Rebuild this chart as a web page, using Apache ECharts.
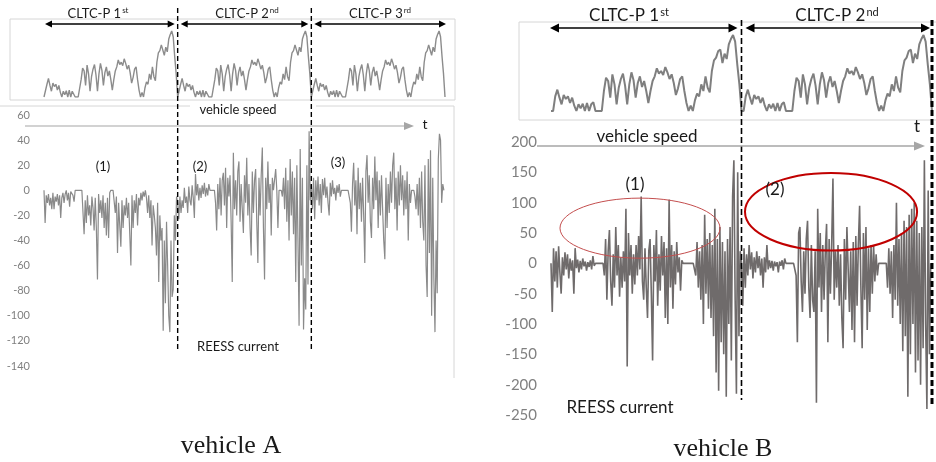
<!DOCTYPE html>
<html><head><meta charset="utf-8">
<script src="https://cdn.jsdelivr.net/npm/echarts@6/dist/echarts.min.js"></script>
<style>html,body{margin:0;padding:0;background:#fff}#c{width:936px;height:462px}</style>
</head><body><div id="c"></div>
<script>
// ---------- data ----------
const cycleNames = ['CLTC-P 1', 'CLTC-P 2', 'CLTC-P 3'];
const cycleSup = ['st', 'nd', 'rd'];
const cycleSeconds = 1800;

// one CLTC-P speed cycle, km/h, every 20 s
const speedCycle = [0,0,22,32,20,10,24,18,22,12,20,8,0,10,4,11,0,12,0,10,
  13,0,0,0,0,30,50,45,20,55,40,10,35,48,56,38,10,40,58,46,
  20,42,52,36,45,30,12,30,45,52,64,56,60,54,66,58,48,55,42,24,
  34,48,52,30,12,0,8,0,16,26,22,40,30,52,35,28,60,76,80,90,
  92,72,86,78,100,108,114,104,70,40];
const speedStep = 20;

// vehicle A REESS current (A), every 15 s, one array per cycle
const curA1 = [0,-26,-4,-10,-3,-12,-6,-15,-2,-15,-5,-9,-3,-12,-4,-22,-6,-2,-10,-3,
  0,-8,-2,-13,-1,0,-4,-9,0,0,0,0,0,0,0,0,-35,-8,-26,-4,
  -20,-12,-28,-5,-14,-32,-6,-30,-71,-3,-18,-8,-22,-4,-30,-10,-36,-6,-38,-2,
  0,0,0,0,-18,-5,-50,-10,-28,-45,-8,-30,-12,-20,-6,-22,-10,-35,-60,-4,
  -30,-8,-18,-3,-28,-6,-12,-2,-8,-1,-5,0,-6,-18,-4,-22,-8,-44,-12,-20,
  -30,-52,-10,-73,-20,-40,-30,-112,-40,-90,-25,-60,-100,-113,-40,-85,-79,-20,-40,-5];
const curA2 = [-10,-23,-5,-18,-8,-14,2,-10,-5,-18,3,-8,-12,4,-6,-22,13,-4,5,-8,
  2,-6,4,-3,6,-5,2,-4,5,0,0,0,0,0,-10,-32,5,-15,10,-20,
  8,14,-12,18,-30,10,-5,12,-25,-73,30,-15,8,-20,15,23,-25,5,-15,-34,
  12,-10,26,-20,5,-30,-52,15,-18,8,17,-25,-58,10,-20,12,34,-30,-71,10,
  -15,23,-10,5,-36,10,0,0,17,0,-30,0,0,0,-5,10,-15,18,-25,8,
  -40,25,-20,15,-35,10,-73,20,-40,-108,33,-60,10,-111,-70,-95,20,-75,47,-8];
const curA3 = [5,-15,10,-23,8,-8,11,-12,5,-18,9,-4,10,-6,3,-10,-20,6,-5,8,
  -3,2,-8,4,-2,5,-5,0,0,0,0,0,0,0,0,-10,-33,5,22,-12,
  8,-35,18,-15,6,-25,10,-20,-58,15,28,-10,12,-25,-38,10,-15,27,-8,15,
  -30,8,-20,12,-15,-40,-55,10,-30,5,-18,15,-10,20,30,-15,10,-32,15,-12,
  20,-8,12,-20,8,-15,15,-40,5,-10,0,0,0,-5,-15,5,-20,10,-30,15,
  -25,-40,20,-60,-85,25,-50,32,-100,10,-70,-113,-40,-82,25,45,40,-10,5,0];
const curAStep = 15;

// vehicle B REESS current (A), every 12 s, one array per cycle
const curB1 = [0,-80,25,-30,20,-40,28,-15,-50,10,-20,18,-10,15,-25,8,-12,5,-50,25,
  -8,6,-15,4,-10,8,-5,3,-12,2,-6,5,-10,12,-4,0,0,0,0,0,
  0,0,-20,40,-60,20,55,-30,-70,15,-40,60,-20,30,-55,10,-40,20,-30,90,
  -170,50,-20,30,-50,15,-35,30,-20,45,-10,110,-30,-60,25,-40,-90,20,40,-50,
  -160,30,-30,55,-70,15,-45,45,-20,35,-90,25,-100,105,-40,30,-75,20,-35,35,
  -15,10,-45,5,0,0,0,0,0,0,0,0,0,0,-20,35,-40,20,-60,30,
  -100,80,-50,40,-75,50,-90,30,-120,90,-180,40,-210,60,-130,35,-150,20,-220,40,
  -100,60,-160,110,170,-60,-215,150,-120,20];
const curB2 = [0,-70,25,-40,15,-20,30,-10,18,-25,10,-15,20,-8,12,-20,8,-40,10,-15,
  30,-10,5,-8,4,-12,3,-5,2,-15,3,-4,5,-10,8,0,0,0,0,0,
  0,0,0,-20,-130,50,60,-30,-80,20,-50,40,70,-40,-90,30,-60,-80,20,-230,
  90,-40,50,-80,30,-60,20,65,-130,40,-50,30,140,-60,20,-40,30,-70,15,-90,
  -140,40,-60,60,60,-80,20,-110,35,-130,45,-70,30,95,-40,-140,50,-60,60,-110,
  25,-80,30,-50,30,-30,15,-20,0,0,0,0,0,0,0,-40,25,-50,20,-90,
  30,-60,100,-70,40,-100,50,-145,70,-120,60,-220,80,-150,90,-100,100,-180,70,-160,
  50,-200,60,-140,170,-100,-240,120,-150,0];
const curBStep = 12;

// y-axis ranges (tick labels)
const yA = {min: -140, max: 60, interval: 20};
const yB = {min: -250, max: 200, interval: 50};

// annotation ellipses for vehicle B, in data units (time s, current A)
const ellipseCenterT = [841, 2646];
const ellipseCenterV = [58, 85];
const ellipseRadiusT = [756, 813];
const ellipseRadiusV = [49.5, 64];

// ---------- build ----------
function repeatCycles(arr, n) { let out = []; for (let i = 0; i < n; i++) out = out.concat(arr); return out.concat([0]); }
function toXY(vals, step) { return vals.map((v, i) => [i * step, v]); }

const speedA = repeatCycles(speedCycle, 3);
const speedB = repeatCycles(speedCycle, 2);
const currentA = curA1.concat(curA2, curA3);
const currentB = curB1.concat(curB2);

const SANS = 'Lato, "Liberation Sans", Arial, sans-serif';
const SERIF = '"Liberation Serif", "Times New Roman", serif';

const chart = echarts.init(document.getElementById('c'), null, {renderer: 'canvas'});
const hiddenX = (max) => ({type: 'value', min: 0, max: max, show: false});
chart.setOption({
  animation: false,
  backgroundColor: '#fff',
  grid: [
    {left: 44, top: 27.5, width: 401, height: 69.5},
    {left: 44, top: 115, width: 401, height: 251},
    {left: 551, top: 31, width: 381, height: 80},
    {left: 551, top: 142, width: 381, height: 273}
  ],
  xAxis: [
    Object.assign(hiddenX(5400), {gridIndex: 0}),
    Object.assign(hiddenX(5400), {gridIndex: 1}),
    Object.assign(hiddenX(3600), {gridIndex: 2}),
    Object.assign(hiddenX(3600), {gridIndex: 3})
  ],
  yAxis: [
    {gridIndex: 0, type: 'value', min: 0, max: 120, show: false},
    {gridIndex: 1, type: 'value', min: yA.min, max: yA.max, interval: yA.interval,
      axisLine: {show: false}, axisTick: {show: false}, splitLine: {show: false},
      axisLabel: {color: '#808080', fontSize: 11, fontFamily: SANS, margin: 14}},
    {gridIndex: 2, type: 'value', min: 0, max: 120, show: false},
    {gridIndex: 3, type: 'value', min: yB.min, max: yB.max, interval: yB.interval,
      axisLine: {show: false}, axisTick: {show: false}, splitLine: {show: false},
      axisLabel: {color: '#808080', fontSize: 15, fontFamily: SANS, margin: 14}}
  ],
  series: [
    {type: 'line', xAxisIndex: 0, yAxisIndex: 0, data: toXY(speedA, speedStep), showSymbol: false,
      lineStyle: {color: '#8c8c8c', width: 1.4}, z: 3},
    {type: 'line', xAxisIndex: 1, yAxisIndex: 1, data: toXY(currentA, curAStep), showSymbol: false,
      lineStyle: {color: '#8a8a8a', width: 1.2}, z: 3},
    {type: 'line', xAxisIndex: 2, yAxisIndex: 2, data: toXY(speedB, speedStep), showSymbol: false,
      lineStyle: {color: '#7f7f7f', width: 2}, z: 3},
    {type: 'line', xAxisIndex: 3, yAxisIndex: 3, data: toXY(currentB, curBStep), showSymbol: false,
      lineStyle: {color: '#6f6b6b', width: 1.6}, z: 3}
  ]
});

// ---------- annotations ----------
const px = (g, t, v) => chart.convertToPixel({gridIndex: g}, [t, v]);
const G = [];
function line(x1, y1, x2, y2, stroke, w, dash) {
  G.push({type: 'line', shape: {x1, y1, x2, y2}, style: {stroke, lineWidth: w, lineDash: dash || null}, z: 10});
}
function tri(xTip, y, dir, len, half, fill) {
  G.push({type: 'polygon', shape: {points: [[xTip, y], [xTip - dir * len, y - half], [xTip - dir * len, y + half]]}, style: {fill}, z: 11});
}
function dblArrow(x1, x2, y, len, half, w) {
  line(x1 + len - 1, y, x2 - len + 1, y, '#000', w);
  tri(x1, y, -1, len, half, '#000');
  tri(x2, y, 1, len, half, '#000');
}
function text(x, y, s, size, opts) {
  G.push({type: 'text', x, y, z: 12, style: Object.assign({text: s, fontSize: size, fontFamily: SANS, fill: '#1a1a1a', align: 'center', verticalAlign: 'middle'}, opts || {})});
}
function cycleLabel(x, y, i, size) {
  text(x, y, '{a|' + cycleNames[i] + '}{s|' + cycleSup[i] + '}', size, {
    rich: {a: {fontSize: size, fontFamily: SANS, fill: '#1a1a1a', lineHeight: size + 2},
           s: {fontSize: Math.round(size * 0.62), fontFamily: SANS, fill: '#1a1a1a', verticalAlign: 'top', padding: [0, 0, Math.round(size * 0.45), 1]}}
  });
}

// ---- vehicle A ----
G.push({type: 'rect', shape: {x: 10, y: 19, width: 445, height: 81}, style: {fill: 'none', stroke: '#d6d6d6', lineWidth: 1}, z: 1});
line(0, 106, 190, 106, '#d6d6d6', 1);
line(316, 106, 454, 106, '#d6d6d6', 1);
line(454, 106, 454, 378, '#d6d6d6', 1);
const aX0 = px(0, 0, 0)[0], aX1 = px(0, cycleSeconds, 0)[0], aX2 = px(0, 2 * cycleSeconds, 0)[0], aX3 = px(0, 3 * cycleSeconds, 0)[0];
line(aX1, 8, aX1, 352, '#000', 1.4, [5, 3]);
line(aX2, 8, aX2, 352, '#000', 1.4, [5, 3]);
dblArrow(aX0 + 1, aX1 - 3, 24, 7, 3.5, 1.3);
dblArrow(aX1 + 3, aX2 - 3, 24, 7, 3.5, 1.3);
dblArrow(aX2 + 3, aX3 + 1, 24, 7, 3.5, 1.3);
cycleLabel(98, 14, 0, 13);
cycleLabel(247, 14, 1, 13);
cycleLabel(380, 14, 2, 13);
text(238, 110, 'vehicle speed', 13);
line(25, 126, 405, 126, '#a6a6a6', 1.2);
tri(414, 126, 1, 10, 4, '#a6a6a6');
text(425, 124, 't', 14);
text(103, 167, '(1)', 13);
text(200, 167, '(2)', 13);
text(338, 163, '(3)', 13);
text(238, 347, 'REESS current', 13);
text(231, 446, 'vehicle A', 26, {fontFamily: SERIF});

// ---- vehicle B ----
G.push({type: 'rect', shape: {x: 519, y: 22, width: 430, height: 98}, style: {fill: 'none', stroke: '#d6d6d6', lineWidth: 1}, z: 1});
const bX0 = px(2, 0, 0)[0], bX1 = px(2, cycleSeconds, 0)[0], bX2 = px(2, 2 * cycleSeconds, 0)[0];
line(bX1, 20, bX1, 400, '#000', 1.6, [6, 3]);
line(bX2, 20, bX2, 405, '#000', 3, [6, 3]);
dblArrow(bX0 - 1, bX1 - 4, 28, 9, 4.5, 1.6);
dblArrow(bX1 + 4, bX2 - 2, 28, 9, 4.5, 1.6);
cycleLabel(629, 16, 0, 17);
cycleLabel(837, 16, 1, 17);
text(647, 137, 'vehicle speed', 17);
line(537, 146, 914, 146, '#a6a6a6', 1.3);
tri(925, 146, 1, 11, 4.5, '#a6a6a6');
text(917, 127, 't', 17);
text(635, 185, '(1)', 17);
text(775, 190, '(2)', 17);
text(620, 408, 'REESS current', 17);
text(723, 449, 'vehicle B', 26, {fontFamily: SERIF});
const ellStyle = [{stroke: '#c44e4e', lineWidth: 1}, {stroke: '#c00000', lineWidth: 2}];
for (let i = 0; i < 2; i++) {
  const c = px(3, ellipseCenterT[i], ellipseCenterV[i]);
  const e = px(3, ellipseCenterT[i] + ellipseRadiusT[i], ellipseCenterV[i] + ellipseRadiusV[i]);
  G.push({type: 'ellipse', shape: {cx: c[0], cy: c[1], rx: Math.abs(e[0] - c[0]), ry: Math.abs(e[1] - c[1])},
    style: Object.assign({fill: 'none'}, ellStyle[i]), z: 9});
}

chart.setOption({graphic: {elements: G}});
</script>
</body></html>
